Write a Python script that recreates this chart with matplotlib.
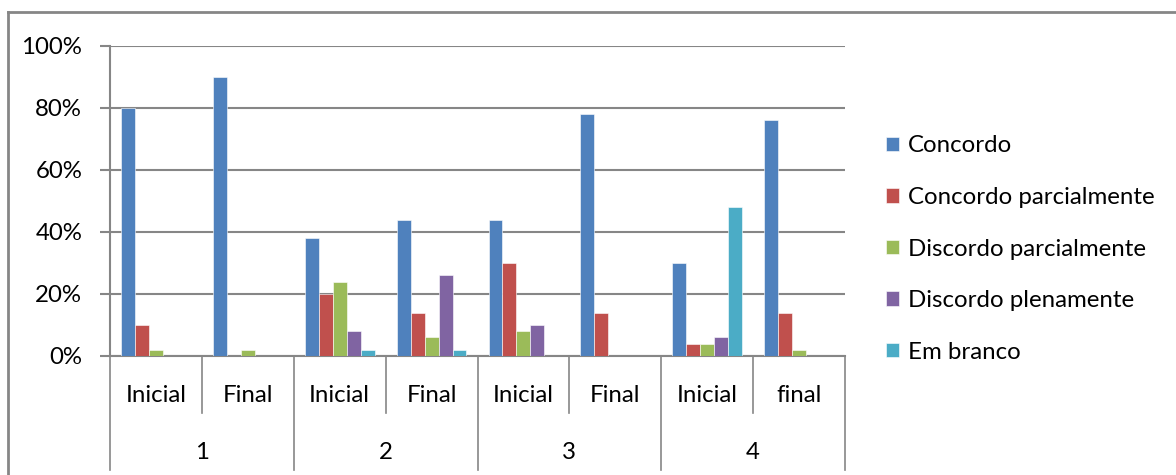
import matplotlib
matplotlib.use("Agg")
import matplotlib.pyplot as plt
import numpy as np
from matplotlib.lines import Line2D

plt.rcParams['font.family'] = ['Lato', 'DejaVu Sans']

groups = ["1", "2", "3", "4"]
phases = ["Inicial", "Final", "Inicial", "Final", "Inicial", "Final", "Inicial", "final"]
series = ["Concordo", "Concordo parcialmente", "Discordo parcialmente",
          "Discordo plenamente", "Em branco"]
colors = ["#4F81BD", "#C0504D", "#9BBB59", "#8064A2", "#4BACC6"]

concordo = [80, 90, 38, 44, 44, 78, 30, 76]
concordo_parc = [10, 0, 20, 14, 30, 14, 4, 14]
discordo_parc = [2, 2, 24, 6, 8, 0, 4, 2]
discordo_plen = [0, 0, 8, 26, 10, 0, 6, 0]
em_branco = [0, 0, 2, 2, 0, 0, 48, 0]
values = [concordo, concordo_parc, discordo_parc, discordo_plen, em_branco]

W, H = 1176, 475
fig = plt.figure(figsize=(W / 100, H / 100), dpi=100)
ax = fig.add_axes([110 / W, (H - 356) / H, 735 / W, 310 / H])

fs = 17.3
grey = "#868686"
n = len(phases)
bw = 0.152
x = np.arange(n) + 0.5
for k, (name, vals) in enumerate(zip(series, values)):
    ax.bar(x + (k - 2) * bw, np.array(vals) / 100, width=bw, color=colors[k],
           label=name, edgecolor="white", linewidth=0.4, zorder=3)

ax.set_xlim(0, n)
ax.set_ylim(0, 1)
ax.set_yticks(np.arange(0, 1.01, 0.2))
ax.set_yticklabels([f"{int(v * 100)}%" for v in np.arange(0, 1.01, 0.2)], fontsize=fs)
ax.yaxis.grid(True, color=grey, linewidth=1.5, zorder=0)
ax.set_xticks([])
for s in ["top", "right"]:
    ax.spines[s].set_visible(False)
for s in ["left", "bottom"]:
    ax.spines[s].set_color(grey)
    ax.spines[s].set_linewidth(1.5)
ax.tick_params(axis="y", length=7, width=1.5, color=grey, pad=13, labelcolor="black")

tr = ax.get_xaxis_transform()
for i in range(n + 1):
    bottom = -0.368 if i % 2 == 0 else -0.184
    ax.add_line(Line2D([i, i], [0, bottom], transform=tr, color=grey,
                       linewidth=1.2, clip_on=False))
for i, p in enumerate(phases):
    ax.text(i + 0.5, -0.126, p, transform=tr, ha="center", va="center", fontsize=fs)
for g, lab in enumerate(groups):
    ax.text(2 * g + 1, -0.31, lab, transform=tr, ha="center", va="center", fontsize=fs)

fig.legend(loc="center left", bbox_to_anchor=(886 / W, (H - 249) / H), frameon=False,
           fontsize=fs, handlelength=0.55, handleheight=0.55, handletextpad=0.35,
           labelspacing=1.27, borderpad=0, borderaxespad=0)

# outer chart border
fig.add_artist(Line2D([8 / W, 8 / W], [0, (H - 12) / H], transform=fig.transFigure,
                      color=grey, linewidth=2))
fig.add_artist(Line2D([8 / W, 1], [(H - 12) / H, (H - 12) / H], transform=fig.transFigure,
                      color=grey, linewidth=2))

fig.savefig("out.png", dpi=100)
